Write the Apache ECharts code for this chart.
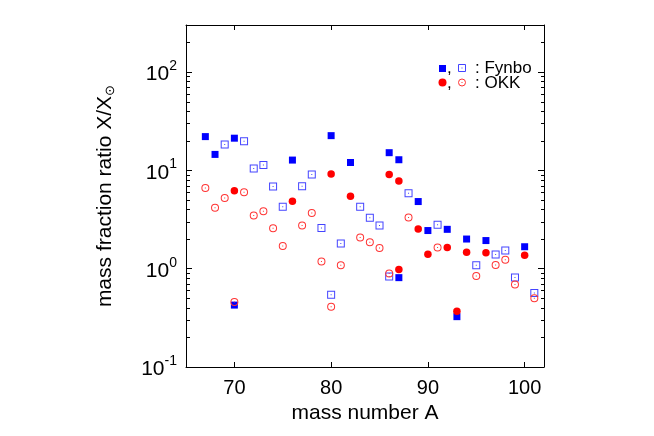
<!DOCTYPE html>
<html>
<head>
<meta charset="utf-8">
<script src="https://cdn.jsdelivr.net/npm/echarts@6/dist/echarts.min.js"></script>
<style>html,body{margin:0;padding:0;background:#fff}#c{width:654px;height:436px}</style>
</head>
<body>
<div id="c"></div>
<script>
// mass number A, value  (X/X_sun)
var fynboFilled = [[67,22.0],[68,14.5],[70,21.2],[70,0.426],[76,12.7],[80,22.5],[82,12.0],[86,15.1],[87,12.8],[87,0.81],[89,4.81],[90,2.44],[92,2.51],[93,0.325],[94,2.0],[96,1.93],[100,1.67]];
var fynboOpen = [[69,18.3],[71,19.7],[72,10.4],[73,11.3],[74,6.83],[75,4.27],[77,6.88],[78,9.04],[79,2.59],[80,0.544],[81,1.80],[83,4.27],[84,3.30],[85,2.74],[86,0.83],[88,5.83],[91,2.80],[95,1.08],[97,1.39],[98,1.53],[99,0.815],[101,0.565]];
var okkFilled = [[70,6.2],[76,4.84],[80,9.17],[82,5.44],[86,9.04],[87,7.78],[87,0.98],[89,2.53],[90,1.40],[92,1.64],[93,0.368],[94,1.47],[96,1.45],[100,1.37]];
var okkOpen = [[67,6.6],[68,4.17],[69,5.23],[70,0.457],[71,5.97],[72,3.46],[73,3.83],[74,2.57],[75,1.70],[77,2.74],[78,3.68],[79,1.18],[80,0.41],[81,1.08],[83,2.07],[84,1.85],[85,1.62],[86,0.89],[88,3.32],[91,1.64],[95,0.84],[97,1.09],[98,1.23],[99,0.69],[101,0.50]];

var xTicks = [70, 80, 90, 100];
var yMajorTicks = [0.1, 1, 10, 100];
var yMinorTicks = [0.2,0.3,0.4,0.5,0.6,0.7,0.8,0.9,2,3,4,5,6,7,8,9,20,30,40,50,60,70,80,90,200];

var FONT = "'Liberation Sans', Arial, Helvetica, sans-serif";
var sqOpenPath = 'path://M0,0H8V8H0Z M1,1V7H7V1Z M3.5,3.5H4.5V4.5H3.5Z';
var ciOpenPath = 'path://M4,0A4,4 0 1,1 4,8A4,4 0 1,1 4,0Z M4,1A3,3 0 1,0 4,7A3,3 0 1,0 4,1Z M3.5,3.5H4.5V4.5H3.5Z';

var chart = echarts.init(document.getElementById('c'), null, {renderer: 'canvas'});
var axisLineStyle = {color: '#000', width: 1};
var option = {
  animation: false,
  backgroundColor: '#fff',
  grid: {left: 186, right: 110, top: 25, bottom: 69},
  xAxis: [{
    type: 'value', min: 65, max: 102, position: 'bottom',
    name: 'mass number A', nameLocation: 'middle', nameGap: 34,
    nameTextStyle: {fontFamily: FONT, fontSize: 21, color: '#000'},
    axisLine: {lineStyle: axisLineStyle},
    axisTick: {inside: true, length: 5, lineStyle: axisLineStyle, customValues: xTicks},
    axisLabel: {fontFamily: FONT, fontSize: 20, color: '#000', margin: 11, customValues: xTicks},
    splitLine: {show: false}
  }, {
    type: 'value', min: 65, max: 102, position: 'top',
    axisLine: {lineStyle: axisLineStyle},
    axisTick: {inside: true, length: 5, lineStyle: axisLineStyle, customValues: xTicks},
    axisLabel: {show: false},
    splitLine: {show: false}
  }],
  yAxis: [{
    type: 'log', min: 0.1, max: 300, logBase: 10, position: 'left',
    axisLine: {lineStyle: axisLineStyle},
    axisTick: {inside: true, length: 6, lineStyle: axisLineStyle},
    axisLabel: {
      margin: 9, showMaxLabel: false,
      formatter: function (v) {
        var e = Math.round(Math.log10(v));
        if (Math.abs(Math.log10(v) - e) > 1e-6) return '';
        return '{b|10}{e|' + e + '}';
      },
      rich: {
        b: {fontFamily: FONT, fontSize: 21, color: '#000', lineHeight: 26, verticalAlign: 'bottom'},
        e: {fontFamily: FONT, fontSize: 14, color: '#000', lineHeight: 14, verticalAlign: 'top'}
      }
    },
    splitLine: {show: false}
  }, {
    type: 'log', min: 0.1, max: 300, logBase: 10, position: 'right',
    axisLine: {lineStyle: axisLineStyle},
    axisTick: {inside: true, length: 6, lineStyle: axisLineStyle},
    axisLabel: {show: false},
    splitLine: {show: false}
  }],
  graphic: [
    {type: 'text', x: 105, y: 196, rotation: Math.PI / 2,
     style: {text: 'mass fraction ratio X/X{s|⊙}', font: '21px ' + FONT, fill: '#000', align: 'center', verticalAlign: 'middle',
       rich: {s: {fontSize: 13, fontFamily: FONT, fill: '#000', padding: [10, 0, 0, 0]}}}},
    {type: 'rect', shape: {x: 439, y: 65, width: 7, height: 7}, style: {fill: '#0000ff'}},
    {type: 'text', x: 447, y: 68, style: {text: ',', font: '17px ' + FONT, fill: '#000', align: 'left', verticalAlign: 'middle'}},
    {type: 'rect', shape: {x: 458.5, y: 64.5, width: 7, height: 7}, style: {fill: 'none', stroke: '#4444ff', lineWidth: 1}},
    {type: 'rect', shape: {x: 461.5, y: 67.5, width: 1, height: 1}, style: {fill: '#4444ff'}},
    {type: 'text', x: 475, y: 68, style: {text: ': Fynbo', font: '17px ' + FONT, fill: '#000', align: 'left', verticalAlign: 'middle'}},
    {type: 'circle', shape: {cx: 442.5, cy: 82.5, r: 4}, style: {fill: '#ff0000'}},
    {type: 'text', x: 447, y: 83, style: {text: ',', font: '17px ' + FONT, fill: '#000', align: 'left', verticalAlign: 'middle'}},
    {type: 'circle', shape: {cx: 462, cy: 82.5, r: 3.5}, style: {fill: 'none', stroke: '#ff3333', lineWidth: 1}},
    {type: 'rect', shape: {x: 461.5, y: 82, width: 1, height: 1}, style: {fill: '#ff3333'}},
    {type: 'text', x: 475, y: 83, style: {text: ': OKK', font: '17px ' + FONT, fill: '#000', align: 'left', verticalAlign: 'middle'}}
  ],
  series: [
    {type: 'custom', silent: true, clip: false, z: 5,
     data: yMinorTicks.map(function (v) { return [65, v]; }),
     renderItem: function (params, api) {
       var p = api.coord([api.value(0), api.value(1)]);
       var cs = params.coordSys;
       var y = Math.round(p[1]) + 0.5;
       var xl = Math.round(cs.x) + 0.5, xr = Math.round(cs.x + cs.width) + 0.5;
       return {type: 'group', children: [
         {type: 'line', shape: {x1: xl, y1: y, x2: xl + 3.5, y2: y}, style: {stroke: '#000', lineWidth: 1}},
         {type: 'line', shape: {x1: xr - 3.5, y1: y, x2: xr, y2: y}, style: {stroke: '#000', lineWidth: 1}}
       ]};
     }},
    {name: 'Fynbo filled', type: 'scatter', data: fynboFilled, symbol: 'rect', symbolSize: 7, itemStyle: {color: '#0000ff', opacity: 1}, z: 2},
    {name: 'Fynbo open', type: 'scatter', data: fynboOpen, symbol: sqOpenPath, symbolSize: 8, itemStyle: {color: '#4444ff', opacity: 1}, z: 3},
    {name: 'OKK filled', type: 'scatter', data: okkFilled, symbol: 'circle', symbolSize: 7.5, itemStyle: {color: '#ff0000', opacity: 1}, z: 4},
    {name: 'OKK open', type: 'scatter', data: okkOpen, symbol: ciOpenPath, symbolSize: 8, itemStyle: {color: '#ff3333', opacity: 1}, z: 4}
  ]
};
chart.setOption(option);
</script>
</body>
</html>
